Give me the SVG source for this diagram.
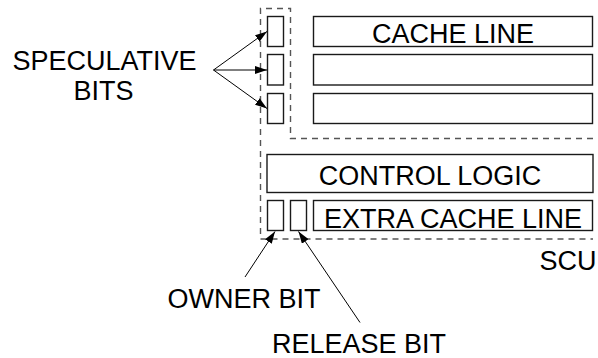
<svg xmlns="http://www.w3.org/2000/svg" width="598" height="358" viewBox="0 0 598 358">
<defs>
<style>
.box{fill:#fff;stroke:#1a1a1a;stroke-width:1.4}
.lbl{font-family:"Liberation Sans",Arial,sans-serif;font-size:27px;fill:#000;text-anchor:middle}
.dash{fill:none;stroke:#555;stroke-width:1.4;stroke-dasharray:6 5}
.arr{fill:none;stroke:#000;stroke-width:1;marker-end:url(#ah)}
</style>
<marker id="ah" viewBox="0 0 12 8" refX="12" refY="4" markerWidth="12" markerHeight="8" markerUnits="userSpaceOnUse" orient="auto">
<path d="M0,0 L12,4 L0,8 Z" fill="#000"/>
</marker>
</defs>
<rect width="598" height="358" fill="#fff"/>
<g id="scu">
<path class="dash" d="M593,138.5 H290.5 V8.5 H260.5 V239 H593"/>
<text class="lbl" x="568" y="270">SCU</text>
</g>
<g id="spec-bit-1"><rect class="box" x="267.5" y="16.5" width="16" height="30"/></g>
<g id="spec-bit-2"><rect class="box" x="267.5" y="54.5" width="16" height="30.5"/></g>
<g id="spec-bit-3"><rect class="box" x="267.5" y="93.5" width="16" height="30"/></g>
<g id="cache-line-1"><rect class="box" x="313.5" y="16.5" width="279" height="30"/><text class="lbl" x="453" y="42.5">CACHE LINE</text></g>
<g id="cache-line-2"><rect class="box" x="313.5" y="54.5" width="279" height="30.5"/></g>
<g id="cache-line-3"><rect class="box" x="313.5" y="93.5" width="279" height="30"/></g>
<g id="control-logic"><rect class="box" x="267" y="154.5" width="326" height="38"/><text class="lbl" x="430" y="185">CONTROL LOGIC</text></g>
<g id="owner-bit-box"><rect class="box" x="267.5" y="200.5" width="16" height="30"/></g>
<g id="release-bit-box"><rect class="box" x="290.5" y="200.5" width="16" height="30"/></g>
<g id="extra-cache-line"><rect class="box" x="313.5" y="200.5" width="279" height="30"/><text class="lbl" x="453" y="227.5">EXTRA CACHE LINE</text></g>
<g id="speculative-bits-label"><text class="lbl" x="104.5" y="69.5">SPECULATIVE</text><text class="lbl" x="103.5" y="100">BITS</text></g>
<g id="owner-bit-label"><text class="lbl" x="244" y="307.5">OWNER BIT</text></g>
<g id="release-bit-label"><text class="lbl" x="359" y="353">RELEASE BIT</text></g>
<g id="connectors">
<line class="arr" x1="213.5" y1="70" x2="267" y2="31.5"/>
<line class="arr" x1="213.5" y1="70" x2="267" y2="70"/>
<line class="arr" x1="213.5" y1="70" x2="267" y2="108.5"/>
<line class="arr" x1="245" y1="277" x2="275" y2="231.5"/>
<line class="arr" x1="360" y1="322.5" x2="298.5" y2="231.5"/>
</g>
</svg>
